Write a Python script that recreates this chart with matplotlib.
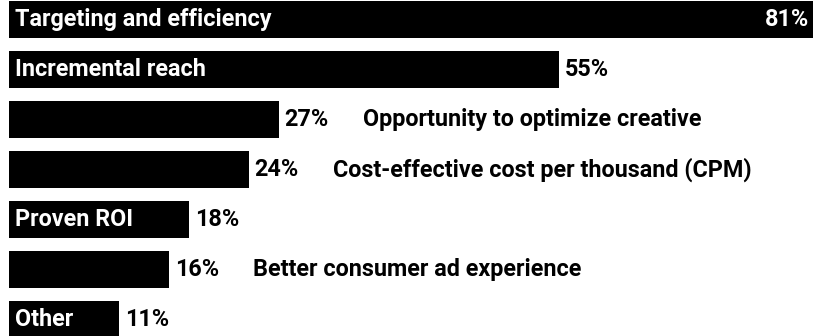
import matplotlib.pyplot as plt
import numpy as np

plt.rcParams['font.family'] = ['Roboto', 'DejaVu Sans']

# survey answers, top to bottom
labels = ['Targeting and efficiency', 'Incremental reach', 'Opportunity to optimize creative',
          'Cost-effective cost per thousand (CPM)', 'Proven ROI', 'Better consumer ad experience', 'Other']
values = [81, 55, 27, 24, 18, 16, 11]
# True -> name written inside the bar, False -> written after the percentage
inside = [True, True, False, False, True, False, True]

fig = plt.figure(figsize=(8.13, 3.36), dpi=100)
ax = fig.add_axes([0, 0, 1, 1])

y = np.arange(len(values))
ax.barh(y, values, height=0.75, color='black', left=0)

fs = 16.8
for i, (lab, v, ins) in enumerate(zip(labels, values, inside)):
    if ins:
        ax.text(0.65, i, lab, color='white', fontsize=fs, fontweight='bold', va='center', ha='left')
    if v > 70:
        ax.text(80.0, i, f'{v}%', color='white', fontsize=fs, fontweight='bold', va='center', ha='right')
    else:
        ax.text(v + 0.6, i, f'{v}%', color='black', fontsize=fs, fontweight='bold', va='center', ha='left')
    if not ins:
        ax.text(v + 8.4, i, lab, color='black', fontsize=fs, fontweight='bold', va='center', ha='left')

ax.set_xlim(-0.87, 80.43)
ax.set_ylim(6.33, -0.39)
ax.axis('off')

fig.savefig('out.png', dpi=100)
